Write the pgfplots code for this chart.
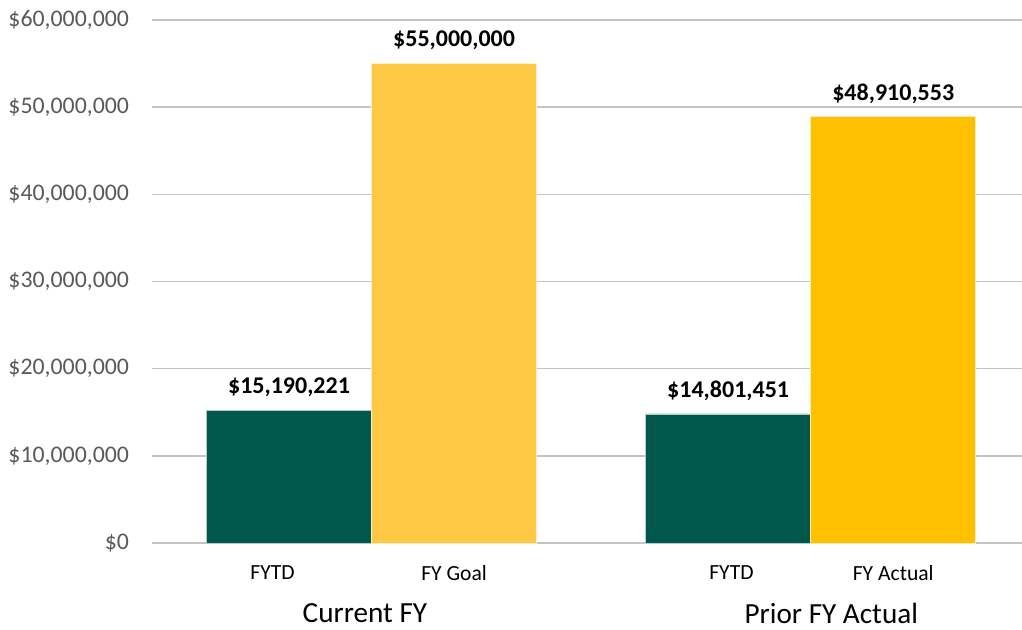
\documentclass[border=0pt]{standalone}
\usepackage{pgfplots}
\pgfplotsset{compat=1.18}
\usepackage{fontspec}
\setmainfont{Carlito}
\definecolor{dkgreen}{HTML}{00584C}
\definecolor{goalyel}{HTML}{FEC845}
\definecolor{actyel}{HTML}{FFC000}
\definecolor{tickgray}{HTML}{595959}
\definecolor{gridgray}{HTML}{C4C4C4}
\begin{document}
\begin{tikzpicture}
\path[use as bounding box] (0,0) rectangle (511pt,315pt);
\begin{axis}[
  at={(76pt,43.5pt)}, anchor=south west,
  scale only axis, width=435pt, height=261.5pt,
  xmin=-0.83, xmax=4.44,
  ymin=0, ymax=60000000,
  ytick={0,10000000,20000000,30000000,40000000,50000000,60000000},
  yticklabels={\$0,\$10{,}000{,}000,\$20{,}000{,}000,\$30{,}000{,}000,\$40{,}000{,}000,\$50{,}000{,}000,\$60{,}000{,}000},
  xtick={-0.1,1,2.68,3.66},
  xticklabels={FYTD,FY Goal,FYTD,FY Actual},
  scaled y ticks=false,
  /pgf/number format/assume math mode=true,
  ymajorgrids, major grid style={gridgray, line width=0.7pt},
  axis line style={draw=none},
  major tick length=0pt,
  yticklabel style={font=\fontsize{11.9}{13}\selectfont, text=tickgray, anchor=east, xshift=-8pt},
  xticklabel style={font=\fontsize{10.8}{12}\selectfont, text=black, anchor=center, yshift=-15pt},
  ybar, bar width=1, bar shift=0pt,
  point meta=explicit symbolic,
  nodes near coords,
  nodes near coords style={font=\bfseries\fontsize{12}{14}\selectfont, text=black, anchor=center, yshift=11.5pt},
  clip=false,
]
\addplot[fill=dkgreen, draw=white!70!dkgreen, line width=0.4pt] coordinates {(0,15190221) [\$15,190,221] (2.66,14801451) [\$14,801,451]};
\addplot[fill=goalyel, draw=white!70!goalyel, line width=0.4pt] coordinates {(1,55000000) [\$55,000,000]};
\addplot[fill=actyel, draw=white!70!actyel, line width=0.4pt] coordinates {(3.66,48910553) [\$48,910,553]};
\node[font=\fontsize{14.6}{17}\selectfont] at (axis cs:0.46,0) [yshift=-35pt] {Current FY};
\node[font=\fontsize{14.6}{17}\selectfont] at (axis cs:3.285,0) [yshift=-35pt] {Prior FY Actual};
\end{axis}
\end{tikzpicture}
\end{document}
